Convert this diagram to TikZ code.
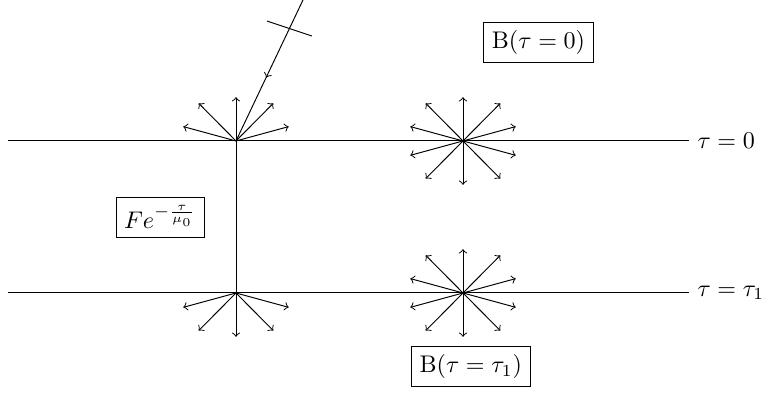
\documentclass[tikz,border=0pt]{standalone}
\usepackage{amsmath,amssymb}
\usetikzlibrary{decorations.markings}

\begin{document}
\begin{tikzpicture}[
    tag/.style     ={rectangle, draw, inner sep=3.4pt},
    beam/.style    ={->},
    incident/.style={postaction={decorate},
                     decoration={markings, mark=at position 0.55 with {\arrow{>}}}}
]
\useasboundingbox (0,0) rectangle (11.153,5.781);

% slab boundaries and scattering points
\coordinate (topL) at (0.117,3.723);
\coordinate (topR) at (10.058,3.723);
\coordinate (botL) at (0.117,1.504);
\coordinate (botR) at (10.058,1.504);
\coordinate (hitT) at (3.445,3.723);
\coordinate (hitB) at (3.445,1.504);
\coordinate (srcT) at (6.759,3.723);
\coordinate (srcB) at (6.759,1.504);
\coordinate (sky)   at (4.423,5.781);
\coordinate (tickA) at (3.898,5.474);
\coordinate (tickB) at (4.555,5.255);

\draw (topL) -- (topR) node[right] (tauZero) {$\tau = 0$};
\draw (botL) -- (botR) node[right] (tauOne)  {$\tau = \tau_1$};
\draw (hitT) -- (hitB);
\draw[incident] (sky) -- (hitT);
\draw (tickA) -- (tickB);

% diffuse rays
\foreach \dx/\dy in {0.77/0.21, 0.545/0.55, 0/0.64, -0.545/0.55, -0.77/0.21} {
  \draw[beam] (hitT) -- ++(\dx,\dy);
  \draw[beam] (hitB) -- ++(\dx,-\dy);
  \draw[beam] (srcT) -- ++(\dx,\dy);
  \draw[beam] (srcT) -- ++(\dx,-\dy);
  \draw[beam] (srcB) -- ++(\dx,\dy);
  \draw[beam] (srcB) -- ++(\dx,-\dy);
}

\node[tag] (bTop) at (7.861,5.161) {B$(\tau = 0)$};
\node[tag] (flux) at (2.336,2.612) {$Fe^{-\frac{\tau}{\mu_0}}$};
\node[tag] (bBot) at (6.873,0.43)  {B$(\tau = \tau_1)$};
\end{tikzpicture}
\end{document}
